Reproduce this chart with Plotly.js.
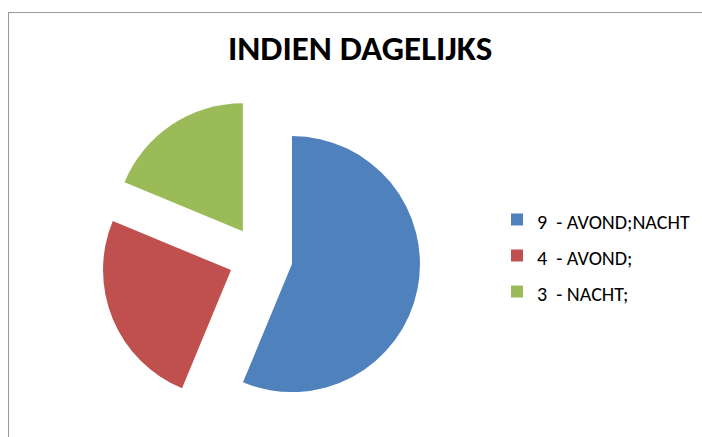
<!DOCTYPE html>
<html>
<head>
<meta charset="utf-8">
<script src="https://cdn.plot.ly/plotly-3.0.1.min.js"></script>
<style>
html,body{margin:0;padding:0;background:#fff;overflow:hidden;}
#wrap{position:relative;width:702px;height:437px;}
#frame{position:absolute;left:8px;top:12px;width:720px;height:460px;border-top:1px solid #9a9a9a;border-left:1px solid #9a9a9a;pointer-events:none;}
#chart{position:absolute;left:0;top:0;width:702px;height:437px;}
</style>
</head>
<body>
<div id="wrap">
<div id="chart"></div>
<div id="frame"></div>
</div>
<script>
var labels = ["9\u00a0 - AVOND;NACHT", "4\u00a0 - AVOND;", "3\u00a0 - NACHT;"];
var values = [9, 4, 3];
var colors = ["#4F81BD", "#C0504D", "#9BBB59"];
var chartTitle = "INDIEN DAGELIJKS";

var legendFont = "Carlito, Lato, 'Open Sans', sans-serif";
var titleFont = "Carlito, Lato, 'Open Sans', sans-serif";

var shownLabels = labels.map(function (s) {
  return '<span style="font-size:20px">' + s + '</span>';
});

var trace = {
  type: "pie",
  labels: shownLabels,
  values: values,
  sort: false,
  direction: "clockwise",
  rotation: 0,
  pull: [0.25, 0.25, 0.25],
  marker: {colors: colors, line: {width: 0}},
  textinfo: "none",
  hoverinfo: "label+value",
  domain: {x: [0.1433, 0.5991], y: [0.0439, 0.7762]}
};

var layout = {
  width: 702,
  height: 437,
  margin: {l: 0, r: 0, t: 0, b: 0},
  paper_bgcolor: "#ffffff",
  title: {
    text: "<b>" + chartTitle + "</b>",
    x: 0.513, xanchor: "center", xref: "paper",
    y: 0.89, yanchor: "middle", yref: "paper",
    font: {family: titleFont, size: 35, color: "#000000"}
  },
  showlegend: true,
  legend: {
    x: 0.708, xanchor: "left",
    y: 0.4142, yanchor: "middle",
    font: {family: legendFont, size: 25.4, color: "#000000"},
    bgcolor: "rgba(0,0,0,0)"
  }
};

Plotly.newPlot("chart", [trace], layout, {displayModeBar: false, staticPlot: true});
</script>
</body>
</html>
